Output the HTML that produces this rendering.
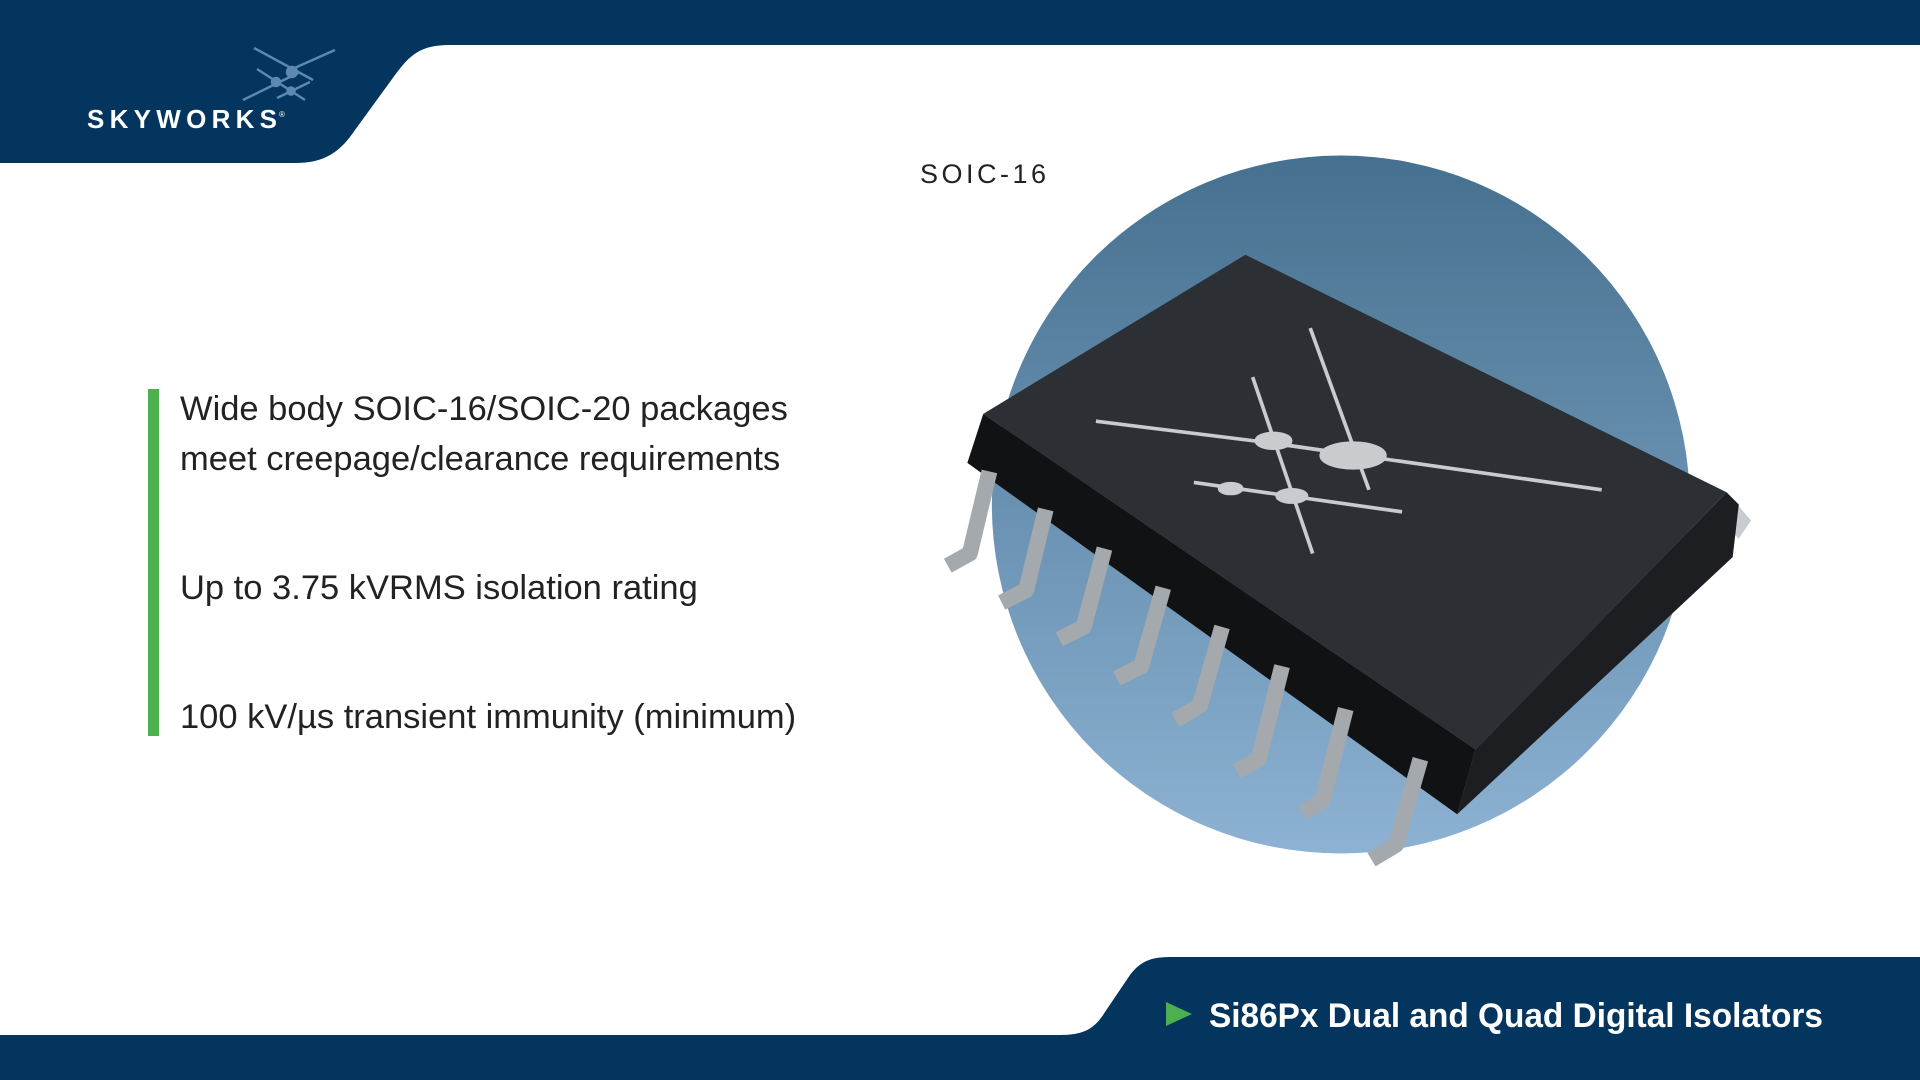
<!DOCTYPE html>
<html><head><meta charset="utf-8"><style>
html,body{margin:0;padding:0;width:1920px;height:1080px;overflow:hidden;background:#fff;font-family:"Liberation Sans",sans-serif}
.t{position:absolute;color:#222;font-size:34.5px;white-space:nowrap}
</style></head><body>
<svg width="1920" height="1080" viewBox="0 0 1920 1080" style="position:absolute;left:0;top:0">
<defs>
<linearGradient id="cg" x1="0" y1="0" x2="0" y2="1"><stop offset="0" stop-color="#46708f"/><stop offset="1" stop-color="#8db2d3"/></linearGradient>
</defs>
<path d="M0 0H1920V45H450C420 45 410 55 395 75L355 130C340 152 325 163 295 163H0Z" fill="#03355e"/>
<path d="M0 1035H1060C1085 1035 1095 1028 1105 1012L1130 975C1140 962 1150 957 1170 957H1920V1080H0Z" fill="#03355e"/>
<g stroke="#5d88b0" stroke-width="2.5" fill="#5d88b0">
<line x1="254" y1="48" x2="313" y2="80"/><line x1="290" y1="70" x2="335" y2="50"/>
<line x1="243" y1="100" x2="300" y2="72"/><line x1="257" y1="69" x2="305" y2="100"/>
<line x1="277" y1="98" x2="310" y2="82"/>
<circle cx="292" cy="72" r="5"/><circle cx="276" cy="82" r="4"/><circle cx="291" cy="91" r="3.5"/>
</g>
<text x="87" y="128" fill="#fff" font-family="Liberation Sans" font-weight="bold" font-size="26" textLength="190" lengthAdjust="spacing">SKYWORKS</text>
<text x="279" y="117" fill="#fff" font-size="8">®</text>
<rect x="148" y="389" width="11" height="347" fill="#4caf50"/>
<polygon points="1166,1002 1166,1026 1192,1014" fill="#4caf50"/>
<text x="1209" y="1027" fill="#fff" font-family="Liberation Sans" font-weight="bold" font-size="34" textLength="614" lengthAdjust="spacingAndGlyphs">Si86Px Dual and Quad Digital Isolators</text>
<text x="920" y="183" fill="#222" font-family="Liberation Sans" font-size="27" letter-spacing="3.5">SOIC-16</text>
<g transform="scale(1.2245)">
<circle cx="1095" cy="412" r="285" fill="url(#cg)"/>
<polygon points="1410,402 1430,425 1420,440 1410,430" fill="#c8ccd0"/>
<polygon points="803,338 1205,612 1190,665 790,378" fill="#111214"/>
<polygon points="1410,402 1420,412 1415,455 1190,665 1205,612" fill="#1c1e21"/>
<polygon points="1017,208 1410,402 1205,612 803,338" fill="#2c3034"/>
<g stroke="#a4a9ae" stroke-width="13" fill="none" stroke-linejoin="round">
<polyline points="808,385 792,452 774,462"/>
<polyline points="854,416 838,482 818,492"/>
<polyline points="902,448 885,512 865,522"/>
<polyline points="950,480 932,544 912,554"/>
<polyline points="998,512 980,576 960,588"/>
<polyline points="1047,544 1028,620 1010,630"/>
<polyline points="1099,579 1080,654 1064,664"/>
<polyline points="1160,620 1140,690 1120,702"/>
</g>
<g stroke="#c9ccce" stroke-width="3" fill="#c9ccce">
<line x1="895" y1="344" x2="1040" y2="362"/><line x1="1040" y1="362" x2="1308" y2="400"/>
<line x1="1070" y1="268" x2="1118" y2="400"/><line x1="1023" y1="308" x2="1072" y2="452"/>
<line x1="975" y1="394" x2="1145" y2="418"/><line x1="1040" y1="362" x2="1110" y2="372"/>
<ellipse cx="1105" cy="372" rx="26" ry="10"/><ellipse cx="1040" cy="360" rx="14" ry="6"/>
<ellipse cx="1055" cy="405" rx="12" ry="5"/><ellipse cx="1005" cy="399" rx="9" ry="4"/>
</g>
</g>
</svg>
<div class="t" style="left:180px;top:390px">Wide body SOIC-16/SOIC-20 packages</div>
<div class="t" style="left:180px;top:440px">meet creepage/clearance requirements</div>
<div class="t" style="left:180px;top:569px">Up to 3.75 kVRMS isolation rating</div>
<div class="t" style="left:180px;top:698px">100 kV/µs transient immunity (minimum)</div>
</body></html>
